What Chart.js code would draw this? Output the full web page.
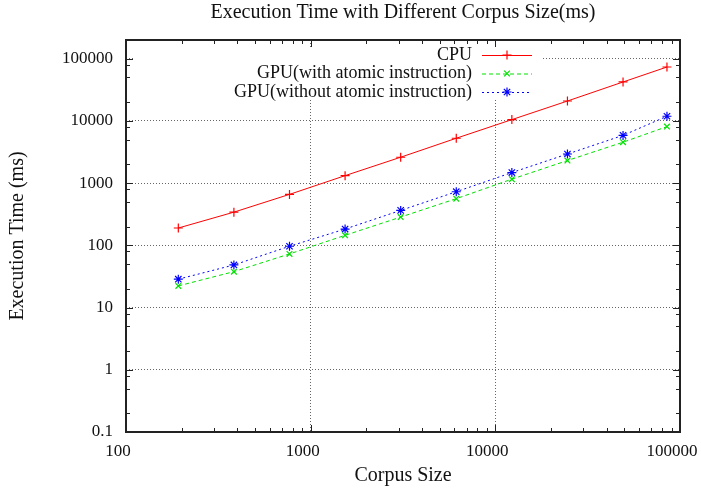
<!DOCTYPE html>
<html>
<head>
<meta charset="utf-8">
<script src="https://cdn.jsdelivr.net/npm/chart.js@4/dist/chart.umd.min.js"></script>
<style>
  html, body { margin: 0; padding: 0; background: #fff; }
  #plot { display: block; }
</style>
</head>
<body>
<canvas id="plot" width="701" height="491"></canvas>
<script>
//-- measured data (corpus size vs. time in ms) ---->
var corpusSize  = [192, 384, 768, 1536, 3072, 6144, 12288, 24576, 49152, 85000];
var cpuTime     = [190, 342, 660, 1320, 2610, 5270, 10500, 20900, 42300, 73600];
var gpuAtomic   = [22.3, 37.8, 72.8, 145, 285, 563, 1160, 2310, 4550, 8110];
var gpuNoAtomic = [28.6, 48.4, 96.8, 183, 365, 728, 1480, 2940, 5860, 11900];

var seriesNames = ['CPU', 'GPU(with atomic instruction)', 'GPU(without atomic instruction)'];

//-- axis decades and minor tick multiples ---->
var xTicks = [100, 1000, 10000, 100000];
var yTicks = [0.1, 1, 10, 100, 1000, 10000, 100000];
var minorX = [2, 3, 4, 5, 6, 7, 8, 9];
var minorY = [2, 5, 8];

var chartTitle = 'Execution Time with Different Corpus Size(ms)';
var xTitle = 'Corpus Size';
var yTitle = 'Execution Time (ms)';

var serif = 'Liberation Serif';
Chart.defaults.font.family = serif;
Chart.defaults.font.size = 17;
Chart.defaults.color = '#111';

function pts(ys) {
    var out = [];
    for (let i = 0; i < corpusSize.length; i++) {
        out.push({ x: corpusSize[i], y: ys[i] });
    }
    return out;
}

var styles = [
    { color: '#ff0000', dash: [],     point: 'cross',    radius: 4.5 },
    { color: '#00e000', dash: [4, 3], point: 'crossRot', radius: 4 },
    { color: '#0000ff', dash: [2, 3], point: 'star',     radius: 4.5 }
];

function makeSet(i, ys) {
    return {
        label: seriesNames[i],
        data: pts(ys),
        showLine: true,
        borderColor: styles[i].color,
        backgroundColor: styles[i].color,
        borderWidth: 1,
        borderDash: styles[i].dash,
        pointStyle: styles[i].point,
        pointRadius: styles[i].radius,
        pointBorderWidth: 1.2,
        pointBorderColor: styles[i].color
    };
}

//-- frame, ticks, key and title in gnuplot fashion ---->
var frame = {
    id: 'frame',
    beforeDatasetsDraw(chart) {
        const ctx = chart.ctx, a = chart.chartArea;
        const x = chart.scales.x, y = chart.scales.y;
        ctx.save();

        // opaque key box over the grid
        ctx.fillStyle = '#fff';
        ctx.fillRect(a.left + 9, a.top + 7, 407, 53);

        // tick marks on all four sides
        ctx.strokeStyle = '#222';
        ctx.lineWidth = 1;
        ctx.beginPath();
        xTicks.forEach(function (d) {
            const px = Math.round(x.getPixelForValue(d)) + 0.5;
            ctx.moveTo(px, a.bottom); ctx.lineTo(px, a.bottom - 7);
            ctx.moveTo(px, a.top); ctx.lineTo(px, a.top + 7);
            if (d < xTicks[xTicks.length - 1]) {
                minorX.forEach(function (m) {
                    const mx = Math.round(x.getPixelForValue(d * m)) + 0.5;
                    ctx.moveTo(mx, a.bottom); ctx.lineTo(mx, a.bottom - 4);
                    ctx.moveTo(mx, a.top); ctx.lineTo(mx, a.top + 4);
                });
            }
        });
        yTicks.forEach(function (d) {
            const py = Math.round(y.getPixelForValue(d)) + 0.5;
            ctx.moveTo(a.left, py); ctx.lineTo(a.left + 7, py);
            ctx.moveTo(a.right, py); ctx.lineTo(a.right - 7, py);
            minorY.forEach(function (m) {
                if (d * m > y.max) return;
                const my = Math.round(y.getPixelForValue(d * m)) + 0.5;
                ctx.moveTo(a.left, my); ctx.lineTo(a.left + 4, my);
                ctx.moveTo(a.right, my); ctx.lineTo(a.right - 4, my);
            });
        });
        ctx.stroke();

        // border
        ctx.lineWidth = 2;
        ctx.strokeRect(a.left, a.top, a.right - a.left, a.bottom - a.top);

        // key
        ctx.font = '18px ' + serif;
        ctx.textAlign = 'right';
        ctx.textBaseline = 'middle';
        ctx.fillStyle = '#111';
        const rows = [a.top + 15, a.top + 33.5, a.top + 52];
        const sx0 = a.left + 356, sx1 = a.left + 406;
        chart.data.datasets.forEach(function (ds, i) {
            const ry = rows[i];
            ctx.fillText(ds.label, a.left + 346, ry);
            ctx.save();
            ctx.strokeStyle = ds.borderColor;
            ctx.lineWidth = 1;
            ctx.setLineDash(ds.borderDash);
            ctx.beginPath();
            ctx.moveTo(sx0, ry + 0.5); ctx.lineTo(sx1, ry + 0.5);
            ctx.stroke();
            ctx.setLineDash([]);
            ctx.lineWidth = ds.pointBorderWidth;
            ctx.fillStyle = ds.borderColor;
            Chart.helpers.drawPoint(ctx, { pointStyle: ds.pointStyle, radius: ds.pointRadius, rotation: 0, borderWidth: ds.pointBorderWidth }, (sx0 + sx1) / 2, ry);
            ctx.restore();
        });

        // title
        ctx.font = '20px ' + serif;
        ctx.textAlign = 'center';
        ctx.fillText(chartTitle, (a.left + a.right) / 2, 13);
        ctx.restore();
    }
};

var ctx = document.getElementById('plot');
var myChart = new Chart(ctx, {
    type: 'scatter',
    data: {
        datasets: [makeSet(0, cpuTime), makeSet(1, gpuAtomic), makeSet(2, gpuNoAtomic)]
    },
    options: {
        responsive: false,
        animation: false,
        devicePixelRatio: 1,
        layout: { padding: { top: 40, right: 21, left: 0, bottom: 0 } },
        plugins: {
            legend: { display: false },
            tooltip: { enabled: false },
            title: { display: false }
        },
        scales: {
            x: {
                type: 'logarithmic',
                min: 100,
                max: 100000,
                afterBuildTicks: function (s) { s.ticks = xTicks.map(function (v) { return { value: v }; }); },
                afterFit: function (s) { s.height = 59; s.paddingLeft = 0; s.paddingRight = 0; },
                ticks: {
                    autoSkip: false,
                    maxRotation: 0,
                    padding: 9,
                    labelOffset: -8,
                    callback: function (v) { return String(v); }
                },
                grid: { drawTicks: false, color: 'rgba(0,0,0,0.6)', lineWidth: 1 },
                border: { display: false, dash: [1, 2] },
                title: { display: true, text: xTitle, font: { size: 20 }, padding: { top: 0, bottom: 3 } }
            },
            y: {
                type: 'logarithmic',
                min: 0.1,
                max: 200000,
                afterBuildTicks: function (s) { s.ticks = yTicks.map(function (v) { return { value: v }; }); },
                afterFit: function (s) { s.width = 126; s.paddingTop = 0; s.paddingBottom = 0; },
                ticks: {
                    autoSkip: false,
                    padding: 13,
                    callback: function (v) { return String(v); }
                },
                grid: { drawTicks: false, color: 'rgba(0,0,0,0.6)', lineWidth: 1 },
                border: { display: false, dash: [1, 2] },
                title: { display: true, text: yTitle, font: { size: 20 }, padding: { top: 6, bottom: 0 } }
            }
        }
    },
    plugins: [frame]
});
</script>
</body>
</html>
